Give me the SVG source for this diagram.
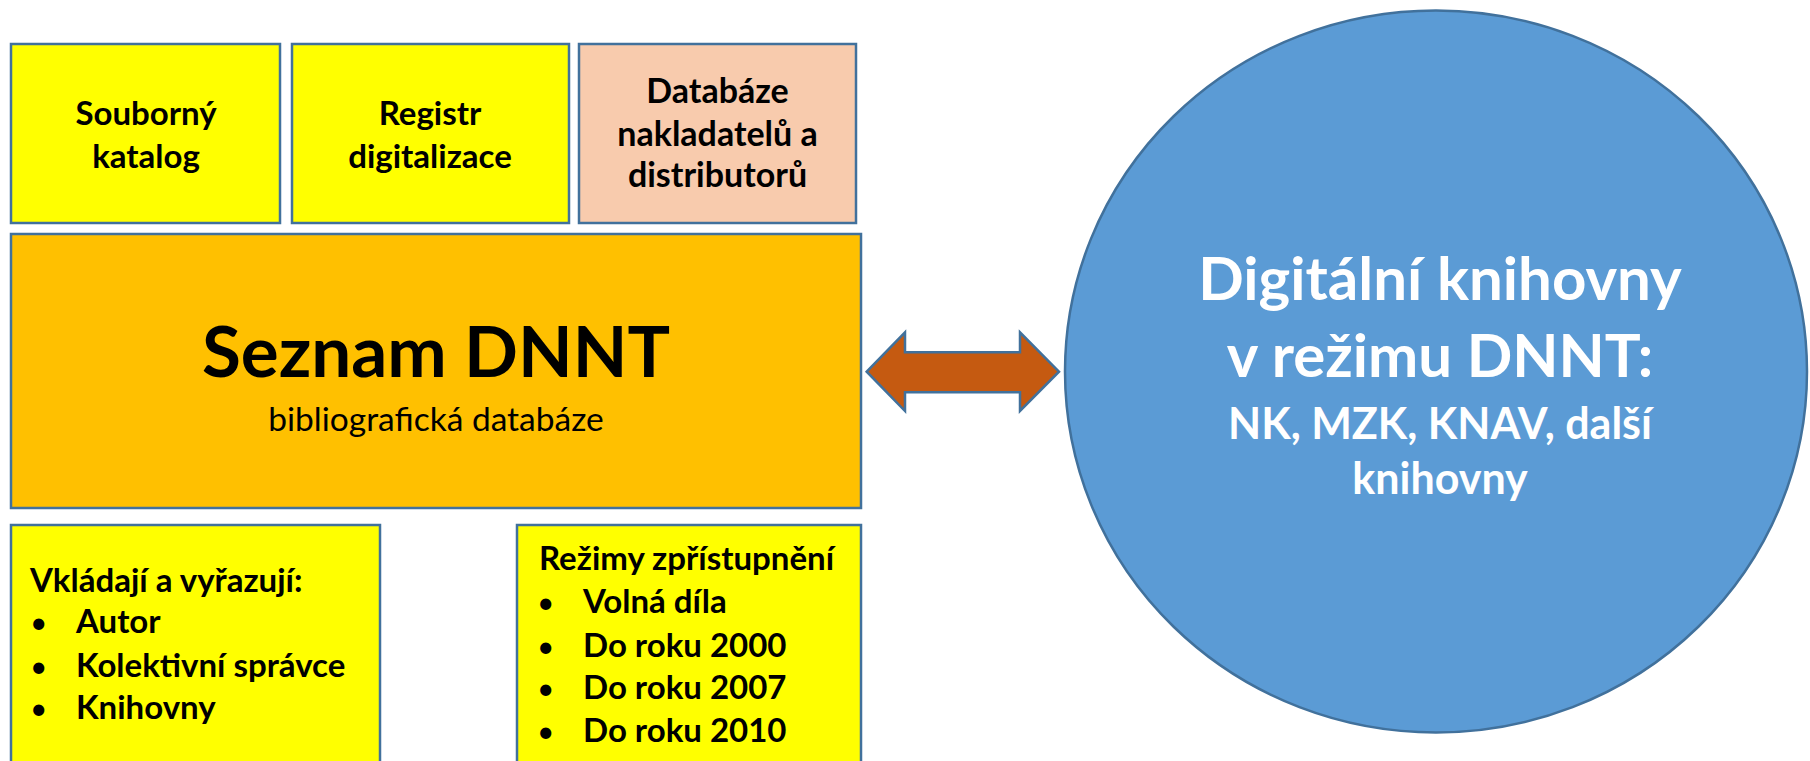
<svg xmlns="http://www.w3.org/2000/svg" width="1810" height="761" viewBox="0 0 1810 761">
<style>
.box{stroke:#41719C;stroke-width:2.5}
.y{fill:#FFFF00}
.t{font-family:Lato,"Liberation Sans",sans-serif;font-weight:bold;fill:#000}
.b{font-family:Lato,"Liberation Sans",sans-serif;font-weight:normal;fill:#000;font-size:30px}
.c{text-anchor:middle}
.w{fill:#FFFFFF}
</style>
<rect width="1810" height="761" fill="#FFFFFF"/>
<g id="souborny-katalog">
<rect class="box y" x="11" y="44" width="269" height="179"/>
<text class="t c" x="146" y="125" font-size="33">Souborný</text>
<text class="t c" x="146" y="168" font-size="33">katalog</text>
</g>
<g id="registr-digitalizace">
<rect class="box y" x="292" y="44" width="277" height="179"/>
<text class="t c" x="430" y="125" font-size="33">Registr</text>
<text class="t c" x="430" y="168" font-size="33">digitalizace</text>
</g>
<g id="databaze-nakladatelu">
<rect class="box" fill="#F8CBAD" x="579" y="44" width="277" height="179"/>
<text class="t c" x="717.5" y="103" font-size="34">Databáze</text>
<text class="t c" x="717.5" y="146" font-size="34">nakladatelů a</text>
<text class="t c" x="717.5" y="187" font-size="34">distributorů</text>
</g>
<g id="seznam-dnnt">
<rect class="box" fill="#FFC000" x="11" y="234" width="850" height="274"/>
<text class="t c" x="436" y="377" font-size="71">Seznam DNNT</text>
<text class="c" x="436" y="431" font-size="33.5" font-family="Lato,'Liberation Sans',sans-serif" fill="#000">bibliografická databáze</text>
</g>
<g id="vkladaji">
<rect class="box y" x="11" y="525" width="369" height="250"/>
<text class="t" x="30" y="592" font-size="33">Vkládají a vyřazují:</text>
<text class="b" x="30" y="633">•</text>
<text class="t" x="76" y="633" font-size="33">Autor</text>
<text class="b" x="30" y="677">•</text>
<text class="t" x="76" y="677" font-size="33">Kolektivní správce</text>
<text class="b" x="30" y="719">•</text>
<text class="t" x="76" y="719" font-size="33">Knihovny</text>
</g>
<g id="rezimy">
<rect class="box y" x="517" y="525" width="344" height="250"/>
<text class="t" x="539" y="570" font-size="33">Režimy zpřístupnění</text>
<text class="b" x="537" y="613">•</text>
<text class="t" x="583" y="613" font-size="33">Volná díla</text>
<text class="b" x="537" y="657">•</text>
<text class="t" x="583" y="657" font-size="33">Do roku 2000</text>
<text class="b" x="537" y="699">•</text>
<text class="t" x="583" y="699" font-size="33">Do roku 2007</text>
<text class="b" x="537" y="742">•</text>
<text class="t" x="583" y="742" font-size="33">Do roku 2010</text>
</g>
<g id="digitalni-knihovny">
<ellipse class="box" fill="#5B9BD5" cx="1436" cy="371.5" rx="371" ry="361"/>
<text class="t c w" x="1440" y="300" font-size="60">Digitální knihovny</text>
<text class="t c w" x="1440" y="377" font-size="60">v režimu DNNT:</text>
<text class="t c w" x="1440" y="439" font-size="43">NK, MZK, KNAV, další</text>
<text class="t c w" x="1440" y="494" font-size="43">knihovny</text>
</g>
<g id="connectors">
<path d="M866.7,371.7 L905,332.3 L905,352.3 L1020,352.3 L1020,332.3 L1059,371.7 L1020,411 L1020,392.3 L905,392.3 L905,411 Z" fill="#C55A11" stroke="#41719C" stroke-width="2.5" stroke-linejoin="miter"/>
</g>
</svg>
